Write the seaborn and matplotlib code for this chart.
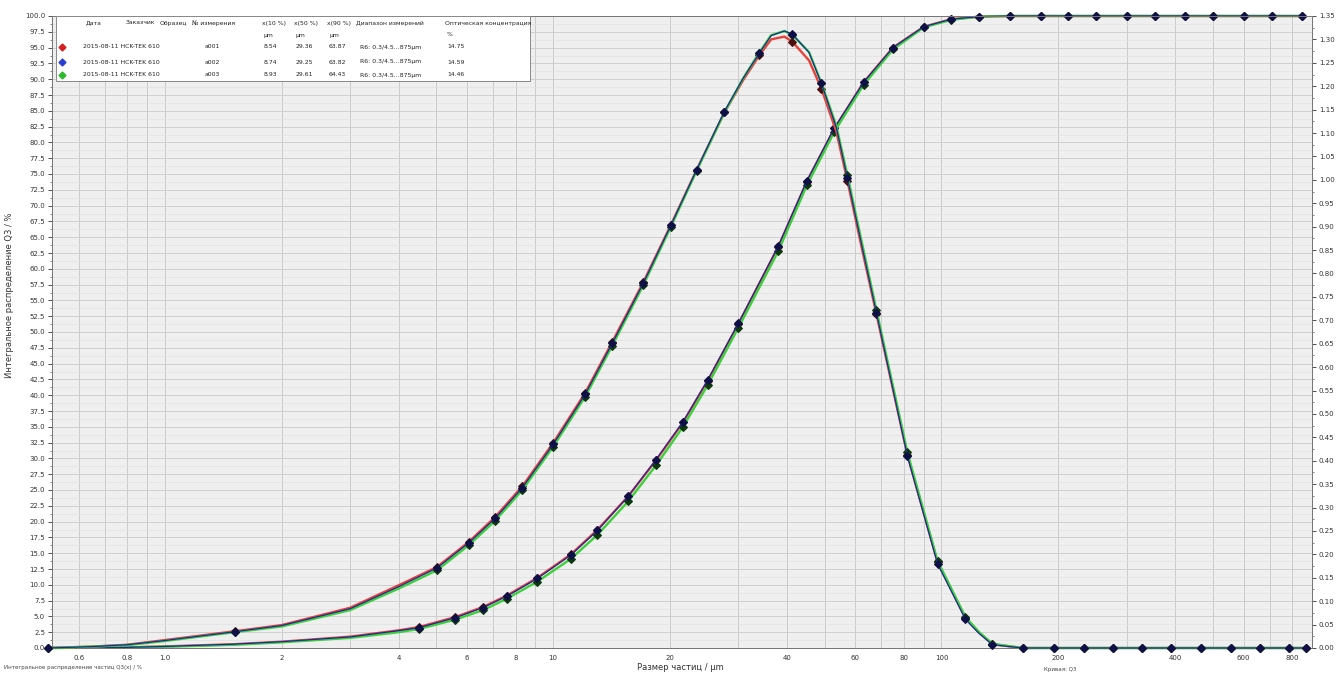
import matplotlib
matplotlib.use("Agg")
import matplotlib.pyplot as plt
import matplotlib.ticker as mticker
from matplotlib.patches import Rectangle
import numpy as np
import seaborn as sns

# --- data ---
# cumulative distribution Q3, %
sizes_q3 = [0.5, 0.8, 1.0, 1.5, 2.0, 3.0, 4.0, 4.5, 5.6, 6.6, 7.6, 9.1, 11.1, 13.0,
            15.6, 18.4, 21.6, 25.0, 30.0, 38.0, 45.0, 53.0, 63.0, 75.0, 90.0, 106.0,
            125.0, 150.0, 180.0, 212.0, 250.0, 300.0, 355.0, 425.0, 500.0, 600.0,
            710.0, 850.0]
q3_a001 = [0.0, 0.1, 0.25, 0.6, 1.0, 1.8, 2.8, 3.3, 4.9, 6.5, 8.3, 11.1, 14.8, 18.7,
           24.0, 29.7, 35.7, 42.3, 51.3, 63.5, 73.8, 82.2, 89.5, 95.0, 98.3, 99.5,
           99.9, 100.0, 100.0, 100.0, 100.0, 100.0, 100.0, 100.0, 100.0, 100.0,
           100.0, 100.0]
q3_a002 = [0.0, 0.1, 0.25, 0.6, 1.0, 1.75, 2.75, 3.2, 4.8, 6.4, 8.2, 11.0, 14.7, 18.6,
           24.0, 29.8, 35.8, 42.4, 51.4, 63.6, 73.9, 82.3, 89.5, 95.0, 98.3, 99.5,
           99.9, 100.0, 100.0, 100.0, 100.0, 100.0, 100.0, 100.0, 100.0, 100.0,
           100.0, 100.0]
q3_a003 = [0.0, 0.08, 0.2, 0.5, 0.9, 1.6, 2.5, 3.0, 4.5, 6.0, 7.8, 10.5, 14.1, 17.9,
           23.2, 28.9, 35.0, 41.6, 50.7, 62.8, 73.2, 81.7, 89.1, 94.7, 98.2, 99.4,
           99.9, 100.0, 100.0, 100.0, 100.0, 100.0, 100.0, 100.0, 100.0, 100.0,
           100.0, 100.0]

# density distribution (right axis)
sizes_dq = [0.5, 0.65, 0.8, 1.0, 1.52, 2.0, 3.0, 4.0, 5.02, 6.07, 7.09, 8.32, 10.0,
            12.09, 14.2, 17.06, 20.1, 23.4, 27.6, 30.9, 33.96, 36.4, 39.4, 41.3, 45.6,
            49.07, 53.6, 57.25, 62.2, 68.0, 81.7, 97.7, 115.3, 125.0, 135.3, 161.8,
            194.4, 232.3, 275.9, 327.7, 389.2, 465.1, 555.7, 659.9, 784.1, 867.0]
dq_a001 = [0.0, 0.003, 0.007, 0.017, 0.036, 0.049, 0.086, 0.134, 0.173, 0.227, 0.280,
           0.345, 0.438, 0.545, 0.654, 0.781, 0.904, 1.021, 1.144, 1.214, 1.266, 1.300,
           1.306, 1.295, 1.255, 1.195, 1.103, 0.998, 0.858, 0.713, 0.412, 0.183, 0.064,
           0.033, 0.008, 0.0, 0.0, 0.0, 0.0, 0.0, 0.0, 0.0, 0.0, 0.0, 0.0, 0.0]
dq_a002 = [0.0, 0.003, 0.007, 0.016, 0.035, 0.048, 0.084, 0.131, 0.171, 0.225, 0.277,
           0.342, 0.435, 0.542, 0.651, 0.779, 0.903, 1.021, 1.146, 1.218, 1.271, 1.308,
           1.318, 1.311, 1.272, 1.206, 1.112, 1.004, 0.864, 0.716, 0.410, 0.180, 0.061,
           0.031, 0.007, 0.0, 0.0, 0.0, 0.0, 0.0, 0.0, 0.0, 0.0, 0.0, 0.0, 0.0]
dq_a003 = [0.0, 0.003, 0.006, 0.015, 0.034, 0.046, 0.081, 0.127, 0.166, 0.220, 0.272,
           0.337, 0.430, 0.537, 0.646, 0.775, 0.900, 1.019, 1.144, 1.218, 1.272, 1.309,
           1.318, 1.310, 1.273, 1.207, 1.116, 1.010, 0.871, 0.722, 0.418, 0.186, 0.066,
           0.034, 0.009, 0.0, 0.0, 0.0, 0.0, 0.0, 0.0, 0.0, 0.0, 0.0, 0.0, 0.0]

# legend table
headers = ["Дата", "Заказчик", "Образец", "№ измерения", "x(10 %)", "x(50 %)",
           "x(90 %)", "Диапазон измерений", "Оптическая концентрация"]
samples = ["2015-08-11 HCK-TEK 610", "2015-08-11 HCK-TEK 610", "2015-08-11 HCK-TEK 610"]
runs = ["a001", "a002", "a003"]
x10 = ["8.54", "8.74", "8.93"]
x50 = ["29.36", "29.25", "29.61"]
x90 = ["63.87", "63.82", "64.43"]
ranges = ["R6: 0.3/4.5...875µm", "R6: 0.3/4.5...875µm", "R6: 0.3/4.5...875µm"]
concentration = ["14.75", "14.59", "14.46"]

x_ticks = [0.6, 0.8, 1.0, 2, 4, 6, 8, 10, 20, 40, 60, 80, 100, 200, 400, 600, 800]
x_labels = ["0.6", "0.8", "1.0", "2", "4", "6", "8", "10", "20", "40", "60", "80",
            "100", "200", "400", "600", "800"]

# --- styles ---
line_colors = ["#e8403a", "#1c2a9a", "#3ad13a"]
legend_colors = ["#d42020", "#2a3fd0", "#2fb82f"]
marker_colors = ["#4a1010", "#101048", "#0c3a0c"]
line_widths = [1.7, 0.9, 1.7]
draw_order = [0, 2, 1]  # red, green, then dark blue on top
q3_marks = list(range(7, len(sizes_q3)))
dq_marks = ([0, 4] + list(range(8, 19)) + [20, 23, 25, 27, 29, 30, 31, 32]
            + list(range(34, len(sizes_dq))))

sns.set_style("white")
plt.rcParams["font.family"] = ["DejaVu Sans"]

W, H = 1343, 674
fig = plt.figure(figsize=(W / 100, H / 100), dpi=100)
L, R, T, B = 52, 1312, 16, 648
ax = fig.add_axes([L / W, 1 - B / H, (R - L) / W, (B - T) / H])
ax2 = ax.twinx()

ax.set_facecolor("#efefef")
ax.set_xscale("log")
ax.set_xlim(0.512, 900)
ax.set_ylim(0, 100)
ax2.set_ylim(0, 1.35)

ax.set_xticks(x_ticks)
ax.set_xticklabels(x_labels)
ax.xaxis.set_minor_locator(mticker.LogLocator(base=10, subs=np.arange(1, 10), numticks=20))
ax.xaxis.set_minor_formatter(mticker.NullFormatter())
ax.yaxis.set_major_locator(mticker.MultipleLocator(2.5))
ax.yaxis.set_minor_locator(mticker.MultipleLocator(1.25))
ax.yaxis.set_major_formatter(mticker.FormatStrFormatter("%.1f"))
ax2.yaxis.set_major_locator(mticker.MultipleLocator(0.05))
ax2.yaxis.set_minor_locator(mticker.MultipleLocator(0.025))
ax2.yaxis.set_major_formatter(mticker.FormatStrFormatter("%.2f"))

ax.grid(True, which="both", axis="x", color="#c4c4c4", lw=0.6)
ax.grid(True, which="major", axis="y", color="#cfcfcf", lw=0.7)
ax.grid(True, which="minor", axis="y", color="#e2e2e2", lw=0.5)
ax.set_axisbelow(True)

for a in (ax, ax2):
    a.tick_params(axis="both", which="major", labelsize=5, length=3, width=0.6,
                  pad=2, colors="#333333")
    a.tick_params(axis="both", which="minor", length=1.5, width=0.5, colors="#555555")
    for s in a.spines.values():
        s.set_color("#777777")
        s.set_linewidth(0.7)

q3_series = [q3_a001, q3_a002, q3_a003]
dq_series = [dq_a001, dq_a002, dq_a003]
for z, i in enumerate(draw_order):
    sns.lineplot(x=sizes_q3, y=q3_series[i], ax=ax, color=line_colors[i],
                 lw=line_widths[i], sort=False, estimator=None, marker="D",
                 markersize=3.6, markevery=q3_marks, markerfacecolor=marker_colors[i],
                 markeredgecolor=marker_colors[i], clip_on=False, zorder=3 + z)
    sns.lineplot(x=sizes_dq, y=dq_series[i], ax=ax2, color=line_colors[i],
                 lw=line_widths[i], sort=False, estimator=None, marker="D",
                 markersize=3.6, markevery=dq_marks, markerfacecolor=marker_colors[i],
                 markeredgecolor=marker_colors[i], clip_on=False, zorder=3 + z)

ax.set_xlabel("")
ax.set_ylabel("")
ax2.set_ylabel("")


# legend table drawn inside the plot, pixel positions converted to axes fractions
def fx(px):
    return (px - L) / (R - L)


def fy(py):
    return (B - py) / (B - T)


ax2.add_patch(Rectangle((fx(56), fy(81)), fx(530) - fx(56), fy(16) - fy(81),
                        transform=ax2.transAxes, facecolor="white",
                        edgecolor="#888888", lw=0.7, zorder=20))
hx = [86, 126, 160, 192, 262, 294, 327, 356, 445]
for h, px in zip(headers, hx):
    ax2.text(fx(px), fy(23), h, transform=ax2.transAxes, fontsize=4.4,
             va="center", ha="left", color="#222222", zorder=21)
for px in (264, 296, 329):
    ax2.text(fx(px), fy(35), "µm", transform=ax2.transAxes, fontsize=4.4,
             va="center", ha="left", color="#222222", zorder=21)
ax2.text(fx(447), fy(35), "%", transform=ax2.transAxes, fontsize=4.4,
         va="center", ha="left", color="#222222", zorder=21)
row_y = [47, 62, 75]
for i in range(3):
    yy = fy(row_y[i])
    ax2.plot([fx(62)], [yy], marker="D", ms=3.5, color=legend_colors[i],
             markeredgecolor=legend_colors[i], transform=ax2.transAxes,
             clip_on=False, zorder=21)
    cells = [samples[i], runs[i], x10[i], x50[i], x90[i], ranges[i], concentration[i]]
    for c, px in zip(cells, [83, 205, 264, 296, 329, 360, 447]):
        ax2.text(fx(px), yy, c, transform=ax2.transAxes, fontsize=4.4,
                 va="center", ha="left", color="#222222", zorder=21)

fig.text(10 / W, 1 - 295 / H, "Интегральное распределение Q3 / %", rotation=90,
         fontsize=6, ha="center", va="center", color="#333333")
fig.text(680 / W, 1 - 667 / H, "Размер частиц / µm", fontsize=6,
         ha="center", va="center", color="#333333")
fig.text(4 / W, 1 - 668 / H, "Интегральное распределение частиц Q3(x) / %",
         fontsize=4, ha="left", va="center", color="#444444")
fig.text(1060 / W, 1 - 669 / H, "Кривая: Q3", fontsize=4,
         ha="center", va="center", color="#444444")

fig.savefig("out.png", dpi=100, facecolor="white")
